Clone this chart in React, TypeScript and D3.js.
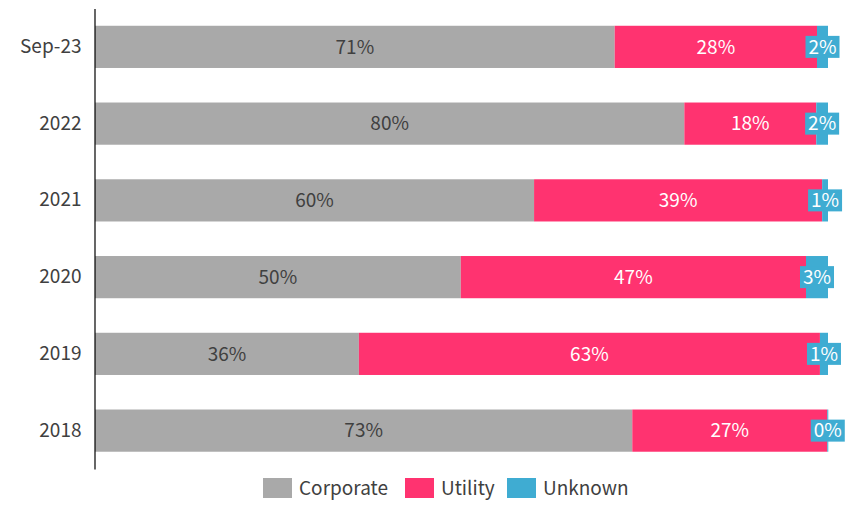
import React, { useRef, useEffect } from 'react';
import * as d3 from 'd3';

const categories = ['Sep-23', '2022', '2021', '2020', '2019', '2018'];
const corporate = [0.709, 0.804, 0.599, 0.499, 0.36, 0.733];
const utility = [0.276, 0.18, 0.393, 0.471, 0.629, 0.266];
const unknown = [0.015, 0.016, 0.008, 0.03, 0.011, 0.0014];

const seriesNames = ['Corporate', 'Utility', 'Unknown'];
const colors = ['#A9A9A9', '#FF3370', '#3FACD2'];
const labelColors = ['#404040', '#ffffff', '#ffffff'];

const width = 852;
const height = 507;
const marginLeft = 95;
const marginTop = 8.5;
const plotBottom = 469;
const plotRight = 828;
const font = '"Noto Sans CJK JP", "Noto Sans", sans-serif';

const App: React.FC = () => {
	const svgRef = useRef<SVGSVGElement | null>(null);

	useEffect(() => {
		if (!svgRef.current) return;
		const svg = d3.select(svgRef.current);
		svg.selectAll('*').remove();

		const rows = categories.map((c, i) => ({ cat: c, Corporate: corporate[i], Utility: utility[i], Unknown: unknown[i] }));
		const stack = d3.stack<any>().keys(seriesNames)(rows);

		const x = d3.scaleLinear().domain([0, 1]).range([marginLeft, plotRight]);
		const y = d3.scaleBand().domain(categories).range([marginTop, plotBottom]).paddingInner(0.45).paddingOuter(0.225);

		// Bars
		stack.forEach((layer, si) => {
			svg.append('g')
				.selectAll('rect')
				.data(layer)
				.join('rect')
				.attr('x', d => x(d[0]))
				.attr('y', d => y(d.data.cat) as number)
				.attr('width', d => x(d[1]) - x(d[0]))
				.attr('height', y.bandwidth())
				.attr('fill', colors[si]);
		});

		// Labels
		stack.forEach((layer, si) => {
			const g = svg.append('g');
			layer.forEach(d => {
				const cx = (x(d[0]) + x(d[1])) / 2;
				const cy = (y(d.data.cat) as number) + y.bandwidth() / 2;
				const txt = `${Math.round((d[1] - d[0]) * 100)}%`;
				if (si === 2) {
					g.append('rect')
						.attr('x', cx - 17)
						.attr('y', cy - 11)
						.attr('width', 34)
						.attr('height', 22)
						.attr('fill', colors[si]);
				}
				g.append('text')
					.attr('x', cx)
					.attr('y', cy)
					.attr('dy', '0.36em')
					.attr('text-anchor', 'middle')
					.attr('font-family', font)
					.attr('font-size', 19)
					.attr('fill', labelColors[si])
					.text(txt);
			});
		});

		// Axis
		svg.append('g')
			.attr('transform', `translate(${marginLeft - 0.5},0)`)
			.call(d3.axisLeft(y).tickSize(0).tickPadding(13))
			.call(g => g.select('.domain').attr('stroke', '#000').attr('stroke-width', 1.2))
			.call(g => g.selectAll('text').attr('font-family', font).attr('font-size', 19).attr('fill', '#404040'));

		// Legend
		const legendX = [263, 405, 507];
		const legend = svg.append('g');
		seriesNames.forEach((name, i) => {
			legend.append('rect')
				.attr('x', legendX[i])
				.attr('y', 478)
				.attr('width', 29)
				.attr('height', 20)
				.attr('fill', colors[i]);
			legend.append('text')
				.attr('x', legendX[i] + 36)
				.attr('y', 488)
				.attr('dy', '0.36em')
				.attr('font-family', font)
				.attr('font-size', 19)
				.attr('fill', '#404040')
				.text(name);
		});
	}, []);

	return (
		<svg ref={svgRef} width={width} height={height} style={{ position: 'absolute', left: 0, top: 0, background: '#fff' }} />
	);
};

export default App;
